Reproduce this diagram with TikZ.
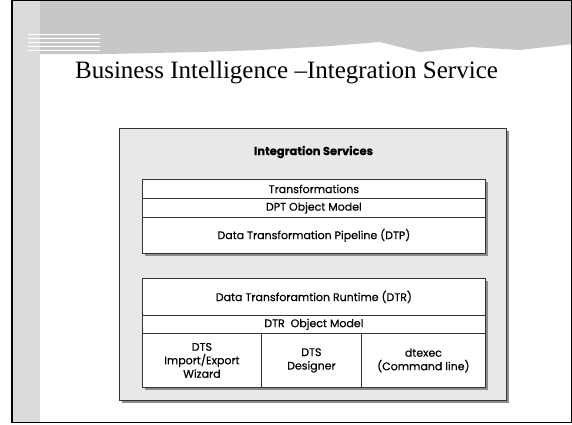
\documentclass[tikz,border=0pt]{standalone}
\usepackage{fontspec}
\setmainfont{Liberation Serif}
\newfontfamily\diagfont[FakeBold=0.4]{Poppins}
\begin{document}
\begin{tikzpicture}[x=1pt,y=-1pt,
  boxline/.style={draw=black!80,line width=0.8pt},
  rowbox/.style={boxline,fill=white,minimum width=343pt,inner sep=0pt,font=\diagfont\fontsize{11}{13.5}\selectfont,align=center},
  colbox/.style={boxline,fill=white,inner sep=0pt,font=\diagfont\fontsize{11}{13.5}\selectfont,align=center},
  shadowfill/.style={fill=black!45}]
\useasboundingbox (0,0) rectangle (572,424);
\fill[white] (0,0) rectangle (572,424);
% decorative slide background
\fill[black!14] (12,0) rectangle (40,423);
\fill[black!22] (40,0) -- (572,0) -- (572,44) -- (520,50) -- (470,47) -- (420,52) -- (380,42) -- (330,46) -- (260,50) -- (200,52) -- (105,54) -- (40,54) -- cycle;
\foreach \yy in {34,38,42,46,50} \draw[white,line width=0.6pt] (28,\yy) -- (100,\yy);
\draw[line width=1.4pt] (12,0.7) -- (12,422.3) -- (571.3,422.3) -- (571.3,0.7) -- cycle;
% title
\node[font=\fontsize{25}{30}\selectfont,anchor=base] (title) at (286.5,78) {Business Intelligence –Integration Service};
% outer grey box
\fill[shadowfill] (122,131) rectangle (509,403);
\node[draw=black!80,line width=0.9pt,fill=black!9,minimum width=387pt,minimum height=272pt,inner sep=0pt,anchor=north west] (outer) at (119,128) {};
\node[font=\diagfont\bfseries\fontsize{11.5}{13}\selectfont] (is) at (313.5,152) {Integration Services};
% upper stack
\fill[shadowfill] (145,182) rectangle (488,256);
\node[rowbox,minimum height=19pt,anchor=north west] (tr) at (142,179) {Transformations};
\node[rowbox,minimum height=19pt,anchor=north west] (dpt) at (142,198) {DPT Object Model};
\node[rowbox,minimum height=36pt,anchor=north west] (dtp) at (142,217) {Data Transformation Pipeline (DTP)};
% lower stack
\fill[shadowfill] (145,281) rectangle (488,390);
\node[rowbox,minimum height=37pt,anchor=north west] (dtr) at (142,278) {Data Transforamtion Runtime (DTR)};
\node[rowbox,minimum height=18pt,anchor=north west] (dtrom) at (142,315) {DTR\ \ Object Model};
\node[colbox,minimum width=119pt,minimum height=54pt,anchor=north west] (wiz) at (142,333) {DTS\\Import/Export\\Wizard};
\node[colbox,minimum width=100pt,minimum height=54pt,anchor=north west] (des) at (261,333) {DTS\\Designer};
\node[colbox,minimum width=124pt,minimum height=54pt,anchor=north west] (dtexec) at (361,333) {dtexec\\(Command line)};
\end{tikzpicture}
\end{document}
